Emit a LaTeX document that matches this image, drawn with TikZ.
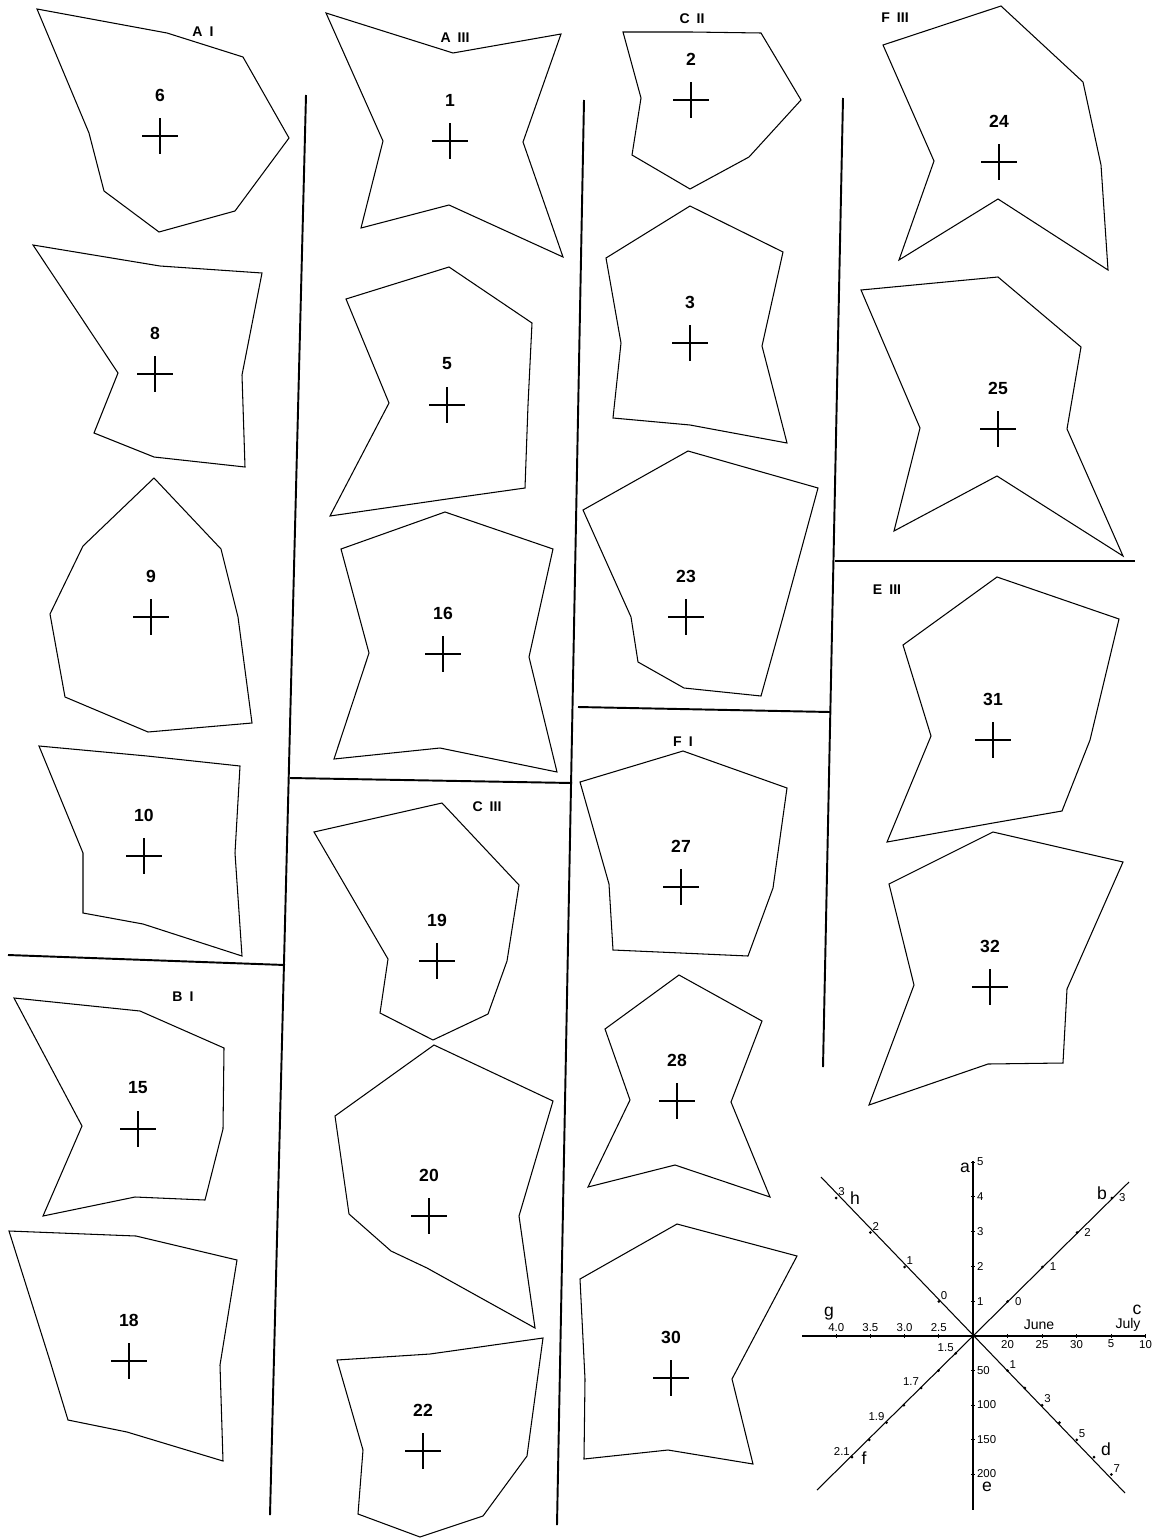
\documentclass[tikz,border=0pt]{standalone}
\usepackage{fontspec}
\setmainfont{Liberation Sans}

\begin{document}
\begin{tikzpicture}[x=0.02cm, y=-0.02cm,
    outline/.style={line width=0.6pt},
    divider/.style={line width=1.1pt},
    num/.style={font=\fontsize{10}{12}\selectfont\bfseries, inner sep=0pt},
    grp/.style={font=\fontsize{8}{10}\selectfont\bfseries, inner sep=0pt},
    keyaxis/.style={line width=0.6pt},
    keytick/.style={font=\fontsize{6.5}{7}\selectfont, inner sep=1pt},
    keyname/.style={font=\fontsize{10}{11}\selectfont, inner sep=0pt},
    crossmark/.pic={\draw[line width=0.6pt] (-18,0) -- (18,0) (0,-18) -- (0,18);}]
    \useasboundingbox (0,0) rectangle (1167,1538);

    % dividing lines
    \draw[divider] (306,95) -- (270,1515);
    \draw[divider] (584,100) -- (557,1525);
    \draw[divider] (843,98) -- (823,1067);
    \draw[divider] (8,955) -- (285,965);
    \draw[divider] (290,778) -- (572,783);
    \draw[divider] (578,707) -- (830,712);
    \draw[divider] (835,561) -- (1135,561);

    % group labels
    \node[grp] (gAI)   at (203,32)  {A\enspace I};
    \node[grp] (gAIII) at (455,38)  {A\enspace III};
    \node[grp] (gCII)  at (692,19)  {C\enspace II};
    \node[grp] (gFIII) at (895,18)  {F\enspace III};
    \node[grp] (gEIII) at (887,590) {E\enspace III};
    \node[grp] (gBI)   at (183,997) {B\enspace I};
    \node[grp] (gCIII) at (487,807) {C\enspace III};
    \node[grp] (gFI)   at (683,742) {F\enspace I};

    % star outlines, spokes a to h
    \draw[outline] (167,33) -- (243,57) -- (289,138) -- (235,211) -- (159,232) -- (104,191) -- (89,133) -- (37,9) -- cycle;
    \draw[outline] (160,266) -- (262,273) -- (242,375) -- (245,467) -- (154,457) -- (94,433) -- (118,373) -- (33,245) -- cycle;
    \draw[outline] (154,478) -- (221,549) -- (238,617) -- (252,723) -- (148,732) -- (65,697) -- (50,614) -- (83,546) -- cycle;
    \draw[outline] (147,756) -- (240,766) -- (235,853) -- (242,956) -- (143,924) -- (83,913) -- (83,853) -- (39,746) -- cycle;
    \draw[outline] (140,1011) -- (224,1048) -- (223,1129) -- (205,1200) -- (135,1197) -- (43,1216) -- (82,1126) -- (14,998) -- cycle;
    \draw[outline] (136,1236) -- (237,1260) -- (220,1365) -- (223,1461) -- (127,1432) -- (68,1420) -- (50,1361) -- (9,1231) -- cycle;
    \draw[outline] (453,53) -- (561,34) -- (523,142) -- (563,257) -- (449,205) -- (361,228) -- (383,141) -- (326,13) -- cycle;
    \draw[outline] (449,267) -- (532,323) -- (528,405) -- (525,488) -- (447,499) -- (330,516) -- (389,403) -- (346,299) -- cycle;
    \draw[outline] (445,512) -- (553,549) -- (529,657) -- (557,772) -- (440,748) -- (334,759) -- (369,653) -- (341,549) -- cycle;
    \draw[outline] (442,803) -- (519,885) -- (507,961) -- (488,1014) -- (433,1040) -- (380,1013) -- (388,959) -- (314,832) -- cycle;
    \draw[outline] (434,1045) -- (553,1101) -- (519,1216) -- (535,1328) -- (427,1268) -- (391,1251) -- (349,1214) -- (335,1116) -- cycle;
    \draw[outline] (430,1354) -- (543,1338) -- (527,1456) -- (483,1516) -- (420,1537) -- (358,1514) -- (363,1450) -- (337,1360) -- cycle;
    \draw[outline] (691,32) -- (761,33) -- (801,100) -- (749,157) -- (690,189) -- (632,155) -- (641,98) -- (623,32) -- cycle;
    \draw[outline] (690,206) -- (783,252) -- (762,346) -- (787,443) -- (690,425) -- (613,418) -- (621,343) -- (606,258) -- cycle;
    \draw[outline] (688,451) -- (818,488) -- (783,617) -- (761,696) -- (684,688) -- (638,662) -- (631,617) -- (583,510) -- cycle;
    \draw[outline] (683,751) -- (787,788) -- (773,888) -- (748,956) -- (681,953) -- (613,950) -- (609,884) -- (580,782) -- cycle;
    \draw[outline] (679,975) -- (762,1021) -- (731,1102) -- (770,1197) -- (675,1165) -- (588,1187) -- (630,1100) -- (605,1029) -- cycle;
    \draw[outline] (677,1224) -- (797,1256) -- (732,1379) -- (753,1464) -- (668,1450) -- (584,1459) -- (585,1379) -- (580,1279) -- cycle;
    \draw[outline] (1001,6) -- (1083,82) -- (1101,165) -- (1108,270) -- (998,199) -- (899,260) -- (934,161) -- (883,45) -- cycle;
    \draw[outline] (998,277) -- (1081,347) -- (1067,429) -- (1123,556) -- (997,476) -- (894,531) -- (920,428) -- (861,290) -- cycle;
    \draw[outline] (997,577) -- (1119,619) -- (1090,740) -- (1062,811) -- (993,823) -- (887,842) -- (931,736) -- (903,645) -- cycle;
    \draw[outline] (993,832) -- (1123,862) -- (1067,989) -- (1063,1063) -- (988,1064) -- (869,1105) -- (914,985) -- (889,884) -- cycle;

    % centres and numbers
    \foreach \x/\y/\n in {160/136/6, 155/374/8, 151/617/9, 144/856/10, 138/1129/15, 129/1361/18,
                          450/141/1, 447/405/5, 443/654/16, 437/961/19, 429/1216/20, 423/1451/22,
                          691/100/2, 690/343/3, 686/617/23, 681/887/27, 677/1101/28, 671/1378/30,
                          999/162/24, 998/429/25, 993/740/31, 990/987/32} {
        \pic at (\x,\y) {crossmark};
        \node[num] (n\n) at (\x,\y-41) {\n};
    }

    % key
    \begin{scope}[shift={(973,1336)}]
        \coordinate (ka) at (0,-175);
        \coordinate (kb) at (156,-154);
        \coordinate (kc) at (172,0);
        \coordinate (kd) at (152,157);
        \coordinate (ke) at (0,174);
        \coordinate (kf) at (-156,154);
        \coordinate (kg) at (-171,0);
        \coordinate (kh) at (-152,-159);
        \draw[keyaxis] (ka) -- (ke);
        \draw[keyaxis] (kg) -- (kc);
        \draw[keyaxis] (kh) -- (kd);
        \draw[keyaxis] (kf) -- (kb);
        \foreach \v in {1,...,5}
            \draw (-2,-34.8*\v) -- (2,-34.8*\v) node[keytick, right] {\v};
        \foreach \v/\t in {1/50,2/100,3/150,4/200}
            \draw (-2,34.5*\v) -- (2,34.5*\v) node[keytick, right] {\t};
        \foreach \v/\t in {1/20,2/25,3/30,4/5,5/10}
            \draw (34.5*\v,-2) -- (34.5*\v,2) node[keytick, below] {\t};
        \foreach \v/\t in {1/2.5,2/3.0,3/3.5,4/4.0}
            \draw (-34.2*\v,2) -- (-34.2*\v,-2) node[keytick, above] {\t};
        \foreach \v in {0,...,3} {
            \fill ({34.7*(\v+1)},{-34.5*(\v+1)}) circle (1.5);
            \node[keytick, right=3pt] at ({34.7*(\v+1)},{-34.5*(\v+1)}) {\v};
        }
        \foreach \v in {1,...,7}
            \fill ({17.3*(\v+1)},{17.3*(\v+1)}) circle (1.5);
        \foreach \v in {1,3,5,7}
            \node[keytick, above right] at ({17.3*(\v+1)},{17.3*(\v+1)}) {\v};
        \foreach \v in {1,...,7}
            \fill ({-17.3*\v},{17.3*\v}) circle (1.5);
        \foreach \v/\t in {1/1.5,3/1.7,5/1.9,7/2.1}
            \node[keytick, above left] at ({-17.3*\v},{17.3*\v}) {\t};
        \foreach \v in {0,...,3} {
            \fill ({-34.2*(\v+1)},{-34.5*(\v+1)}) circle (1.5);
            \node[keytick, above right] at ({-34.2*(\v+1)},{-34.5*(\v+1)}) {\v};
        }
        \node[keyname] (la) at (-8,-168) {a};
        \node[keyname] (lb) at (129,-143) {b};
        \node[keyname] (lc) at (164,-26) {c};
        \node[keyname] (ld) at (133,113) {d};
        \node[keyname] (le) at (14,151) {e};
        \node[keyname] (lf) at (-109,122) {f};
        \node[keyname] (lg) at (-144,-22) {g};
        \node[keyname] (lh) at (-118,-138) {h};
        \node[keytick, font=\fontsize{8}{9}\selectfont] (june) at (66,-11) {June};
        \node[keytick, font=\fontsize{8}{9}\selectfont] (july) at (155,-11) {July};
    \end{scope}
\end{tikzpicture}
\end{document}
